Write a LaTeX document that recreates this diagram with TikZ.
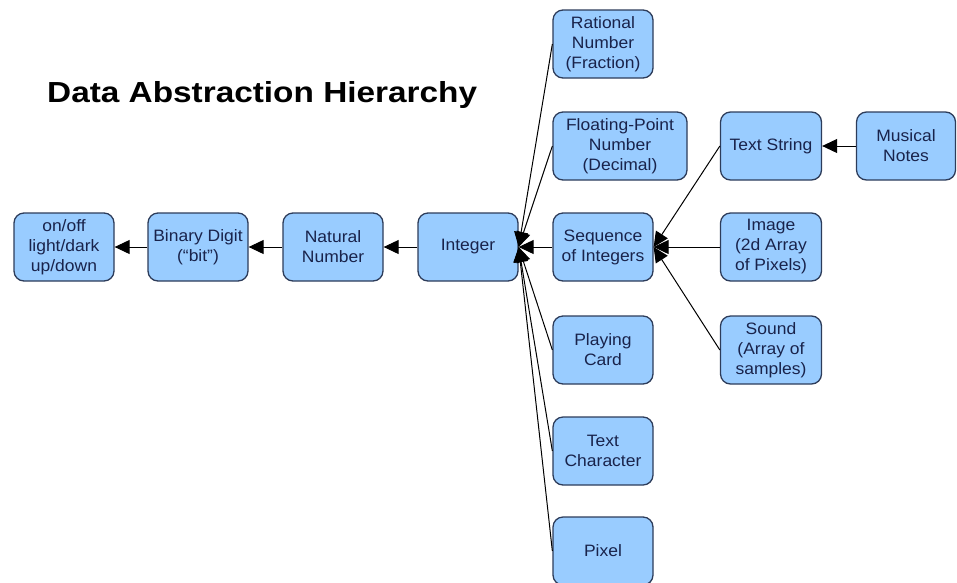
\documentclass[tikz,border=0pt]{standalone}
\usepackage{fontspec}
\setmainfont{Liberation Sans}
\newfontfamily\boxfont[FakeStretch=1.06]{Liberation Sans}
\newfontfamily\titlefont[FakeStretch=1.15]{Liberation Sans}
\usetikzlibrary{arrows.meta}
\definecolor{boxfill}{RGB}{153,204,255}
\definecolor{boxline}{RGB}{45,60,90}
\definecolor{boxtext}{RGB}{25,35,75}
\tikzset{
	box/.style={draw=boxline, line width=1.3pt, fill=boxfill, rounded corners=10pt,
		minimum width=100pt, minimum height=68pt, inner sep=2pt, align=center,
		text=boxtext, font=\boxfont\fontsize{16.5}{20}\selectfont},
	arr/.style={line width=1pt, -{Triangle[length=15pt,width=14pt]}}
}

\begin{document}
\begin{tikzpicture}[x=1pt, y=-1pt]
			%%%%% START %%%%%
			\clip (0, 0) rectangle (957, 582);
			
			\node[font=\titlefont\bfseries\fontsize{29}{34}\selectfont, anchor=base west, inner sep=0] (title) at (47, 102) {Data Abstraction Hierarchy};
			
			% main chain
			\node[box] (onoff) at (64, 247) {on/off\\light/dark\\up/down};
			\node[box] (bit) at (198, 247) {Binary Digit\\(“bit”)};
			\node[box] (natural) at (333, 247) {Natural\\Number};
			\node[box] (integer) at (468, 247) {Integer};
			
			% kinds of integer
			\node[box] (rational) at (603, 44) {Rational\\Number\\(Fraction)};
			\node[box, minimum width=134pt] (float) at (620, 146) {Floating-Point\\Number\\(Decimal)};
			\node[box] (sequence) at (603, 247) {Sequence\\of Integers};
			\node[box] (card) at (603, 350) {Playing\\Card};
			\node[box] (character) at (603, 451) {Text\\Character};
			\node[box] (pixel) at (603, 551) {Pixel};
			
			% kinds of sequence
			\node[box, minimum width=101pt] (string) at (771, 146) {Text String};
			\node[box, minimum width=99pt] (notes) at (906, 146) {Musical\\Notes};
			\node[box, minimum width=101pt] (image) at (771, 247) {Image\\(2d Array\\of Pixels)};
			\node[box, minimum width=101pt] (sound) at (771, 350) {Sound\\(Array of\\samples)};
			
			\draw[arr] (bit) -- (onoff);
			\draw[arr] (natural) -- (bit);
			\draw[arr] (integer) -- (natural);
			
			\draw[arr] (rational.west) -- (integer.east);
			\draw[arr] (float.west) -- (integer.east);
			\draw[arr] (sequence.west) -- (integer.east);
			\draw[arr] (card.west) -- (integer.east);
			\draw[arr] (character.west) -- (integer.east);
			\draw[arr] (pixel.west) -- (integer.east);
			
			\draw[arr] (string.west) -- (sequence.east);
			\draw[arr] (image.west) -- (sequence.east);
			\draw[arr] (sound.west) -- (sequence.east);
			\draw[arr] (notes) -- (string);
			%%%%% END %%%%%
\end{tikzpicture}
\end{document}
